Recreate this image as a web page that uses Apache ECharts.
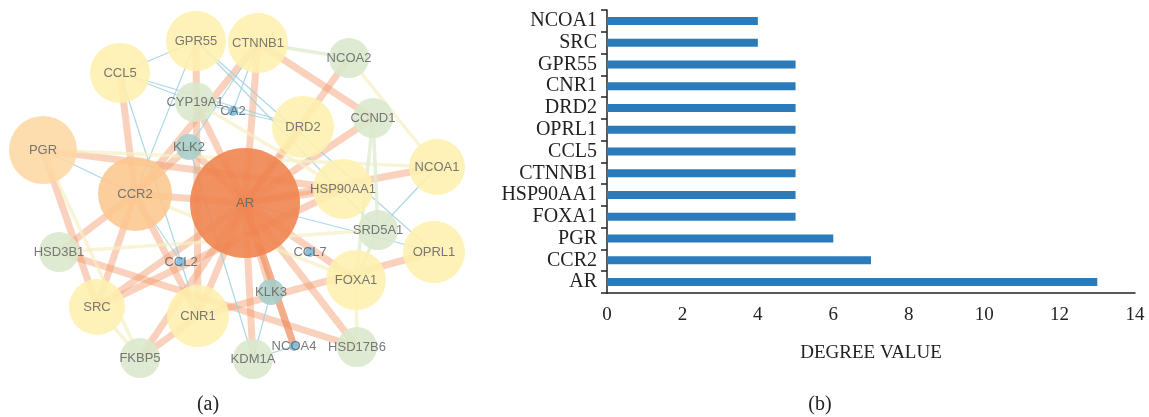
<!DOCTYPE html>
<html>
<head>
<meta charset="utf-8">
<script src="https://cdn.jsdelivr.net/npm/echarts@6/dist/echarts.min.js"></script>
<style>
html,body{margin:0;padding:0;background:#fff;}
#chart{width:1149px;height:417px;}
</style>
</head>
<body>
<div id="chart"></div>
<script>
// ---------- Panel (b): degree values ----------
var categories = ['AR','CCR2','PGR','FOXA1','HSP90AA1','CTNNB1','CCL5','OPRL1','DRD2','CNR1','GPR55','SRC','NCOA1'];
var degreeValues = [13, 7, 6, 5, 5, 5, 5, 5, 5, 5, 5, 4, 4];

// ---------- Panel (a): network layout ----------
var nodeNames = ['AR','CCR2','PGR','CCL5','GPR55','CTNNB1','CYP19A1','CA2','KLK2','DRD2','NCOA2','CCND1','NCOA1','HSP90AA1','SRD5A1','OPRL1','FOXA1','CCL7','KLK3','NCOA4','HSD17B6','KDM1A','CNR1','CCL2','SRC','HSD3B1','FKBP5'];
var nodeX = [245,135,43,120,196,258,195,233,189,303,349,373,437,343,378,434,356,310,271,294,357,253,198,181,97,59,140];
var nodeY = [203,194,150,73,41,43,102,111,147,127,58,118,167,189,230,252,280,252,292,346,347,359,316,262,307,252,358];
var nodeRadius = [55,37,34,30,30,30,20,5,13,31,20,20,28,30,20,31,30,5,13,5,20,20,31,5,28,20,20];
var nodeGroup = ['ar','ccr2','pgr','y','y','y','g','b','t','y','g','g','y','y','g','y','y','b','t','b','g','g','y','b','y','g','g'];

var edgeList = [
  // [source, target, kind]
  ['CCL5','CCR2','o'],['GPR55','CNR1','o'],['CTNNB1','AR','o'],['CTNNB1','CCR2','o'],['CTNNB1','CCND1','o'],
  ['NCOA2','AR','o'],['CCND1','AR','o'],['NCOA1','AR','o'],['PGR','HSP90AA1','o'],['PGR','SRC','o'],
  ['HSD3B1','CCR2','o'],['HSD3B1','HSD17B6','o'],['SRC','AR','o'],['SRC','HSP90AA1','o'],['SRC','CCR2','o'],
  ['CCR2','CNR1','o'],['CCR2','AR','o'],['CNR1','AR','o'],['FKBP5','AR','o'],['FKBP5','CNR1','o'],
  ['KDM1A','AR','o'],['NCOA4','AR','od'],['HSD17B6','AR','o'],['FOXA1','AR','o'],['OPRL1','CNR1','o'],
  ['HSP90AA1','AR','o'],['DRD2','AR','o'],['KLK3','AR','o'],['KLK2','AR','o'],['CYP19A1','AR','o'],['CCR2','KLK2','o'],
  ['CCL5','GPR55','b'],['CCL5','CYP19A1','b'],['CCL5','DRD2','b'],['CCL5','CCL2','b'],['GPR55','CCR2','b'],
  ['GPR55','OPRL1','b'],['GPR55','SRD5A1','b'],['CA2','CTNNB1','b'],['CA2','CYP19A1','b'],['CA2','DRD2','b'],
  ['CCL2','CCR2','b'],['CCL2','CNR1','b'],['KLK3','KDM1A','b'],['NCOA4','KDM1A','b'],['KLK2','KDM1A','b'],
  ['AR','OPRL1','b'],['SRD5A1','NCOA1','b'],['PGR','CCR2','b'],['CTNNB1','KLK2','b'],
  ['PGR','NCOA1','y'],['PGR','FKBP5','y'],['NCOA2','NCOA1','y'],['HSD3B1','SRD5A1','y'],['CYP19A1','HSP90AA1','y'],
  ['CCR2','FOXA1','y'],['HSD17B6','FOXA1','y'],['SRC','FKBP5','y'],
  ['CTNNB1','NCOA2','g'],['CCND1','SRD5A1','g'],['SRD5A1','FOXA1','g'],['CCND1','FOXA1','g']
];

var nodeColors = {ar:'#ef8450', ccr2:'#fcc78e', pgr:'#fdd7a2', y:'#fef0ae', g:'#d9e8cc', t:'#a6cecb', b:'#7cbbe0'};
var edgeStyles = {
  o:{color:'#f29a6a', width:7, opacity:0.45},
  od:{color:'#ee8a58', width:7, opacity:0.7},
  b:{color:'#9fd0e2', width:1.2, opacity:0.85},
  y:{color:'#f6efc4', width:3.5, opacity:0.7},
  g:{color:'#e2ecd4', width:3.5, opacity:0.85}
};

var graphNodes = nodeNames.map(function(n, i){
  return {
    name: n,
    value: [nodeX[i], nodeY[i]],
    symbolSize: nodeRadius[i] * 2,
    itemStyle: {color: nodeColors[nodeGroup[i]], opacity: nodeGroup[i] === 'ar' ? 0.9 : 0.88}
  };
});
var graphLinks = edgeList.map(function(e){
  return {source: e[0], target: e[1], lineStyle: edgeStyles[e[2]]};
});

var chart = echarts.init(document.getElementById('chart'), null, {renderer:'canvas'});
var serif = '"Liberation Serif","DejaVu Serif",serif';
var sans = '"Liberation Sans",Arial,sans-serif';

chart.setOption({
  animation: false,
  backgroundColor: '#fff',
  grid: [
    {left: 0, top: 0, width: 480, height: 417},
    {left: 607, top: 10, right: 14, bottom: 124}
  ],
  xAxis: [
    {gridIndex: 0, type: 'value', min: 0, max: 480, show: false},
    {gridIndex: 1, type: 'value', min: 0, max: 14, interval: 2,
     axisLine: {show: true, lineStyle: {color: '#222', width: 1.5}},
     axisTick: {show: false}, splitLine: {show: false},
     axisLabel: {color: '#222', fontFamily: serif, fontSize: 19, margin: 13},
     name: 'DEGREE VALUE', nameLocation: 'middle', nameGap: 51,
     nameTextStyle: {color: '#222', fontFamily: serif, fontSize: 19}}
  ],
  yAxis: [
    {gridIndex: 0, type: 'value', min: 0, max: 417, inverse: true, show: false},
    {gridIndex: 1, type: 'category', data: categories,
     axisLine: {show: true, lineStyle: {color: '#222', width: 1.5}},
     axisTick: {show: true, interval: 0, length: 6, lineStyle: {color: '#222', width: 1.5}},
     axisLabel: {interval: 0, color: '#222', fontFamily: serif, fontSize: 20, margin: 10},
     splitLine: {show: false}}
  ],
  series: [
    {
      type: 'graph',
      coordinateSystem: 'cartesian2d',
      xAxisIndex: 0, yAxisIndex: 0,
      layout: 'none',
      symbol: 'circle',
      data: graphNodes,
      links: graphLinks,
      label: {show: true, position: 'inside', color: '#666', fontFamily: sans, fontSize: 13},
      emphasis: {disabled: true},
      z: 2
    },
    {
      type: 'bar',
      xAxisIndex: 1, yAxisIndex: 1,
      data: degreeValues,
      barWidth: 8,
      itemStyle: {color: '#2b7bba'}
    }
  ],
  graphic: [
    {type: 'text', x: 208, y: 405, style: {text: '(a)', font: '20px ' + serif, fill: '#222', textAlign: 'center', textVerticalAlign: 'middle'}},
    {type: 'text', x: 820, y: 405, style: {text: '(b)', font: '20px ' + serif, fill: '#222', textAlign: 'center', textVerticalAlign: 'middle'}}
  ]
});
</script>
</body>
</html>
